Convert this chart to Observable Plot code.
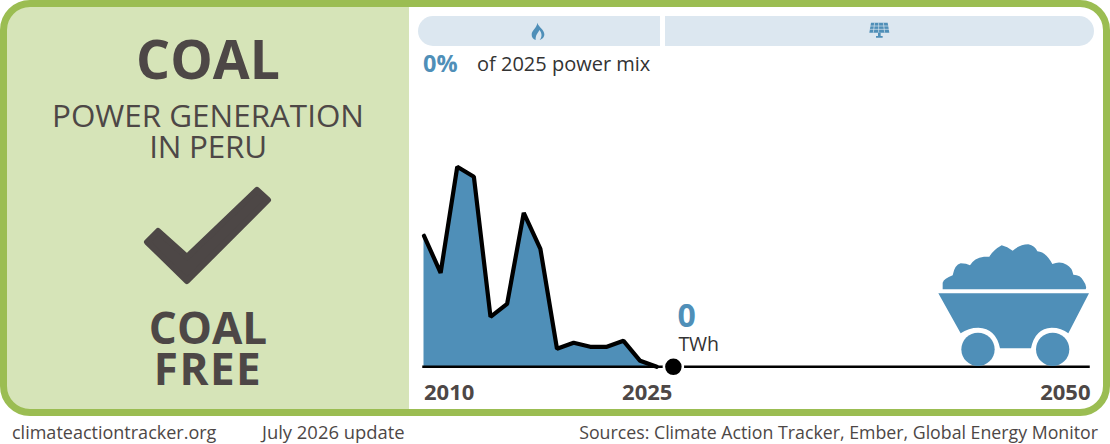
<!DOCTYPE html>
<html><head><meta charset="utf-8">
<script src="https://cdn.jsdelivr.net/npm/d3@7"></script>
<script src="https://cdn.jsdelivr.net/npm/@observablehq/plot@0.6"></script>
<style>
html,body{margin:0;padding:0;background:#fff;overflow:hidden}
#page{position:relative;width:1110px;height:444px;font-family:"Open Sans",sans-serif;color:#4d4746;overflow:hidden}
#page>*{position:absolute}
#left{left:3px;top:3px;width:406px;height:409px;background:#d6e4b8;border-radius:26px 0 0 26px}
#frame{left:0;top:0;width:1110px;height:416px;box-sizing:border-box;border:7px solid #9bbd52;border-radius:30px}
.c{left:8px;width:400px;text-align:center;white-space:nowrap}
.pill{top:16px;height:30px;background:#dce7f0}
.foot{top:420px;line-height:24px;white-space:nowrap;color:#4d4746}
svg{overflow:visible}
</style></head><body>
<div id="page">
  <div id="left"></div>
  <div id="frame"></div>
  <div class="c" style="top:24px;font-size:53.5px;font-weight:700;line-height:70px;">COAL</div>
  <div class="c" style="top:99px;font-size:31.4px;line-height:31px">POWER GENERATION</div>
  <div class="c" style="top:130px;font-size:31.4px;line-height:31px;letter-spacing:-.2px">IN PERU</div>
  <svg style="left:0;top:0" width="410" height="300"><path d="M158 231 147 242 187 281 268 200 257 190 187 257Z" fill="#4d4746" stroke="#4d4746" stroke-width="6" stroke-linejoin="round"/></svg>
  <div class="c" style="top:306px;font-size:44px;font-weight:700;line-height:42px;">COAL</div>
  <div class="c" style="top:347px;font-size:44px;font-weight:700;line-height:42px;letter-spacing:1.5px">FREE</div>
  <div class="pill" style="left:418px;width:242px;border-radius:15px 0 0 15px"></div>
  <div class="pill" style="left:665px;width:429px;border-radius:0 15px 15px 0"></div>
  <svg style="left:410px;top:0" width="300" height="90" viewBox="0 0 900 270"><path d="M382 68C386 82 403 88 403 103C403 113 395 119 389 120C396 112 397 100 388 90C384 100 376 104 377 120C370 118 364 112 365 102C366 90 380 85 382 68Z" fill="#4f8fb8"/></svg>
  <svg style="left:840px;top:10px" width="80" height="40" viewBox="0 0 240 120"><path d="M93 38H143L148 68H88Z" fill="#4f8fb8"/><path d="M104 38 100 68M116 38V68M130 38 134 68M90 48H146M89 58H147" stroke="#dce7f0" stroke-width="2" fill="none"/><path d="M114 68h8v10h6v5h-20v-5h6z" fill="#4f8fb8"/></svg>
  <div style="left:423px;top:48px;font-size:23.5px;font-weight:700;line-height:30px;color:#4f8fb8">0%</div>
  <div style="left:477px;top:50px;font-size:20px;line-height:28px;color:#333;white-space:nowrap">of 2025 power mix</div>
  <div id="chart" style="left:0;top:0"></div>
  <svg style="left:920px;top:230px" width="190" height="190" viewBox="0 0 570 570">
    <path d="M68 178V158Q72 146 98 136Q104 104 122 100Q140 100 150 106Q162 84 192 80L208 80Q220 60 245 46Q262 50 278 62Q298 44 325 43Q345 48 352 64Q378 66 397 102Q420 92 440 104Q456 112 460 134Q482 134 490 152Q502 168 497 178Z" fill="#4f8fb8"/>
    <path d="M55 190H507L445 310Q425 293 395 293Q345 295 333 355H240Q228 295 175 293Q145 293 122 310Z" fill="#4f8fb8"/>
    <circle cx="174" cy="358" r="50" fill="#4f8fb8"/><circle cx="398" cy="358" r="50" fill="#4f8fb8"/>
  </svg>
  <div class="foot" style="left:12px;font-size:18px">climateactiontracker.org</div>
  <div class="foot" style="left:262px;font-size:18.4px">July 2026 update</div>
  <div class="foot" style="right:12px;font-size:17.75px">Sources: Climate Action Tracker, Ember, Global Energy Monitor</div>
</div>
<script>
const years = [2010,2011,2012,2013,2014,2015,2016,2017,2018,2019,2020,2021,2022,2023,2024];
const twh = [0.655,0.47,1.0,0.95,0.25,0.315,0.77,0.59,0.09,0.12,0.10,0.10,0.13,0.03,0];
const endYear = 2050, currentYear = 2025, currentValue = 0;
const tickYears = [2010,2025,2050];
const tickAnchors = ["start","end","end"];
const series = years.map((year,i)=>({year,value:twh[i]}));
const ticks = tickYears.map((year,i)=>({year,anchor:tickAnchors[i]}));
const font = '"Open Sans",sans-serif';
const blue = "#4f8fb8", dark = "#4d4746";
const chart = Plot.plot({
  width:1110,height:444,margin:0,
  style:{background:"transparent",overflow:"visible"},
  x:{domain:[2010,endYear],range:[423.5,1088.5],axis:null},
  y:{domain:[0,1],range:[366.3,166.3],axis:null},
  marks:[
    Plot.areaY(series,{x:"year",y:"value",fill:blue}),
    Plot.ruleY([0],{x1:2010,x2:endYear,stroke:"#000",strokeWidth:2.5,strokeLinecap:"square"}),
    Plot.lineY(series,{x:"year",y:"value",stroke:"#000",strokeWidth:4.2,curve:"linear",strokeLinejoin:"miter"}),
    Plot.dot([{year:currentYear,value:currentValue}],{x:"year",y:"value",r:9.5,fill:"#000",stroke:"#fff",strokeWidth:2.5}),
    Plot.text([{year:currentYear,value:currentValue}],{x:"year",y:"value",text:d=>String(d.value),dx:4,dy:-50,textAnchor:"start",fontSize:32,fontWeight:700,fill:blue,fontFamily:font}),
    Plot.text([{year:currentYear}],{x:"year",y:()=>0,text:()=>"TWh",dx:5,dy:-22,textAnchor:"start",fontSize:19.5,fill:"#333",fontFamily:font}),
    ...ticks.map(t=>Plot.text([t],{x:"year",y:()=>0,text:d=>String(d.year),dy:26,dx:t.year===endYear?1.5:(t.year===currentYear?-1:0),textAnchor:t.anchor,fontSize:22,fontWeight:700,fill:dark,fontFamily:font}))
  ]
});
document.getElementById("chart").appendChild(chart);
</script>
</body></html>
